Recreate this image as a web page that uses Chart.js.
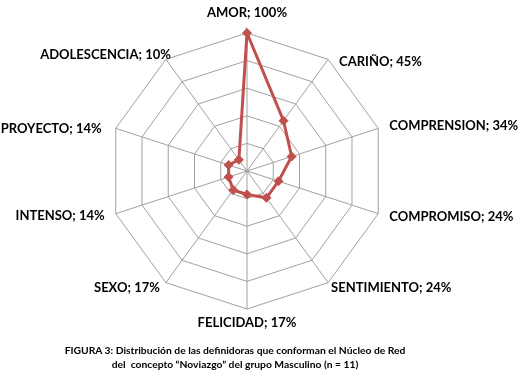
<!DOCTYPE html>
<html>
<head>
<meta charset="utf-8">
<script src="https://cdn.jsdelivr.net/npm/chart.js@4/dist/chart.umd.min.js"></script>
<style>
  html, body { margin: 0; padding: 0; background: #ffffff; }
  #wrap { position: relative; width: 521px; height: 375px; }
  #caption {
    position: absolute; left: 0; top: 343px; width: 470px;
    text-align: center; font-family: Lato, "Liberation Sans", sans-serif;
    font-weight: bold; font-size: 10.3px; line-height: 14px; color: #000;
    white-space: pre;
  }
</style>
</head>
<body>
<div id="wrap">
  <canvas id="c" width="521" height="375"></canvas>
  <div id="caption">FIGURA 3: Distribución de las definidoras que conforman el Núcleo de Red
del  concepto “Noviazgo” del grupo Masculino (n = 11)</div>
</div>
<script>
// ---- data ----
const categories = ["AMOR", "CARIÑO", "COMPRENSION", "COMPROMISO", "SENTIMIENTO",
                    "FELICIDAD", "SEXO", "INTENSO", "PROYECTO", "ADOLESCENCIA"];
const percentages = [100, 45, 34, 24, 24, 17, 17, 14, 14, 10];
const scaleTicks = [0, 20, 40, 60, 80, 100];

// ---- style: label offsets relative to each axis end (px) ----
const labelOffsets = [[0, -20], [11, 2], [11, -3], [11, 3], [3, 5],
                      [0, 14], [-6, 5], [-11, 2], [-14, 0], [5, -5]];

const labelPlugin = {
  id: 'axisLabels',
  afterDraw(chart) {
    const scale = chart.scales.r;
    const ctx = chart.ctx;
    ctx.save();
    ctx.font = 'bold 13px Lato, "Liberation Sans", sans-serif';
    ctx.fillStyle = '#000';
    ctx.textBaseline = 'middle';
    chart.data.labels.forEach((lab, i) => {
      const v = chart.data.datasets[0].data[i];
      const text = lab + '; ' + v + '%';
      const p = scale.getPointPosition(i, scale.drawingArea);
      const a = scale.getIndexAngle(i);
      const s = Math.sin(a);
      const off = labelOffsets[i];
      if (Math.abs(s) < 0.01) ctx.textAlign = 'center';
      else ctx.textAlign = s > 0 ? 'left' : 'right';
      ctx.fillText(text, p.x + off[0], p.y + off[1]);
    });
    ctx.restore();
  }
};

new Chart(document.getElementById('c'), {
  type: 'radar',
  data: {
    labels: categories,
    datasets: [{
      data: percentages,
      borderColor: '#C0504D',
      backgroundColor: 'rgba(0,0,0,0)',
      borderWidth: 3,
      pointStyle: 'rectRot',
      pointRadius: 4.5,
      pointBackgroundColor: '#C0504D',
      pointBorderColor: '#C0504D',
      pointBorderWidth: 1,
      fill: false,
      clip: false,
      tension: 0
    }]
  },
  options: {
    responsive: false,
    animation: false,
    devicePixelRatio: 1,
    layout: { padding: { left: 109, right: 136, top: 33, bottom: 66 } },
    plugins: { legend: { display: false }, tooltip: { enabled: false } },
    scales: {
      r: {
        min: scaleTicks[0],
        max: scaleTicks[scaleTicks.length - 1],
        ticks: { display: false, stepSize: scaleTicks[1] - scaleTicks[0] },
        grid: { color: '#a0a0a0', lineWidth: 1, circular: false },
        angleLines: { color: '#a0a0a0', lineWidth: 1 },
        pointLabels: { display: false }
      }
    }
  },
  plugins: [labelPlugin]
});
</script>
</body>
</html>
